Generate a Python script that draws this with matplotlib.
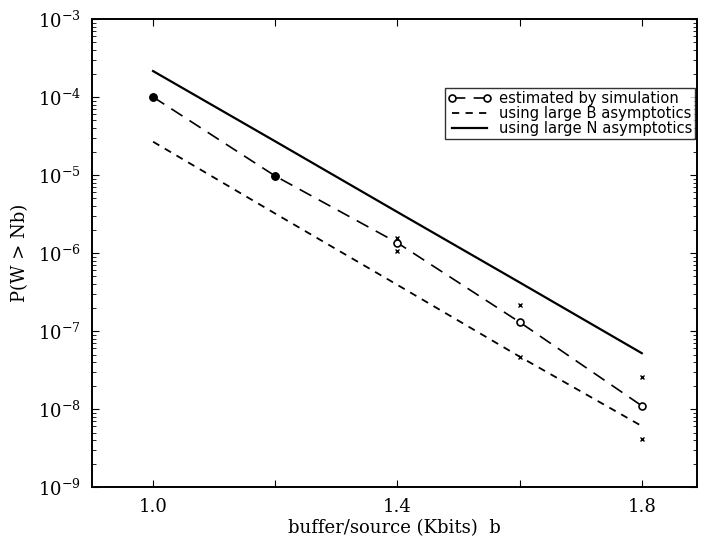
import matplotlib
matplotlib.use("Agg")
import matplotlib.pyplot as plt
from matplotlib.ticker import LogLocator, FixedLocator, FixedFormatter, NullFormatter

plt.rcParams['mathtext.fontset'] = 'cm'
plt.rcParams['font.family'] = 'DejaVu Serif'

# buffer per source (Kbits)
b = [1.0, 1.2, 1.4, 1.6, 1.8]

# simulation estimates and confidence interval ends
sim = [1.0e-4, 9.7e-6, 1.35e-6, 1.3e-7, 1.1e-8]
sim_hi = [1.02e-4, 1.0e-5, 1.55e-6, 2.15e-7, 2.6e-8]
sim_lo = [0.98e-4, 9.4e-6, 1.05e-6, 4.6e-8, 4.1e-9]

# asymptotic approximations
large_b = [2.67e-5, 3.2e-6, 3.9e-7, 4.7e-8, 6.05e-9]
large_n = [2.15e-4, 2.7e-5, 3.35e-6, 4.2e-7, 5.2e-8]

xticks = [1.0, 1.2, 1.4, 1.6, 1.8]
xticklabels = ['1.0', '', '1.4', '', '1.8']
yexps = [-9, -8, -7, -6, -5, -4, -3]

fig = plt.figure(figsize=(7.04, 5.4), dpi=100)
ax = fig.add_axes([0.1307, 0.0981, 0.859, 0.8667])

ax.plot(b, sim, color='black', lw=1.2, dashes=(8, 5), marker='o', ms=5,
        mfc='white', mec='black', mew=1.2, label='estimated by simulation')
ax.plot(b[:2], sim[:2], ls='none', marker='o', ms=5, color='black')
ax.plot(b, sim_hi, ls='none', marker='x', ms=3, color='black', mew=1.0)
ax.plot(b, sim_lo, ls='none', marker='x', ms=3, color='black', mew=1.0)
ax.plot(b, large_b, color='black', lw=1.3, dashes=(4, 3.5),
        label='using large B asymptotics')
ax.plot(b, large_n, color='black', lw=1.6, label='using large N asymptotics')

ax.set_yscale('log')
ax.set_ylim(1e-9, 1e-3)
ax.set_xlim(0.9, 1.89)

ax.xaxis.set_major_locator(FixedLocator(xticks))
ax.xaxis.set_major_formatter(FixedFormatter(xticklabels))
ax.yaxis.set_major_locator(FixedLocator([10.0 ** e for e in yexps]))
ax.yaxis.set_major_formatter(
    FixedFormatter([r'$\mathdefault{10^{%d}}$' % e for e in yexps]))
ax.yaxis.set_minor_locator(LogLocator(base=10, subs=range(2, 10), numticks=20))
ax.yaxis.set_minor_formatter(NullFormatter())

ax.tick_params(which='both', direction='in', top=True, right=True)
ax.tick_params(which='major', length=5, labelsize=13, pad=8)
ax.tick_params(which='minor', length=3)
for s in ax.spines.values():
    s.set_linewidth(1.4)

ax.set_xlabel('buffer/source (Kbits)  b', fontsize=13, labelpad=2)
ax.set_ylabel('P(W > Nb)', fontsize=13, labelpad=6)

leg = ax.legend(loc='upper left', bbox_to_anchor=(0.583, 0.853),
                handlelength=3.0, numpoints=2, frameon=True, fancybox=False,
                borderpad=0.2, labelspacing=0.0, handletextpad=0.5,
                borderaxespad=0.0, prop={'family': 'DejaVu Sans', 'size': 10.6})
leg.get_frame().set_edgecolor('black')
leg.get_frame().set_linewidth(1.0)

fig.savefig('out.png', dpi=100)
